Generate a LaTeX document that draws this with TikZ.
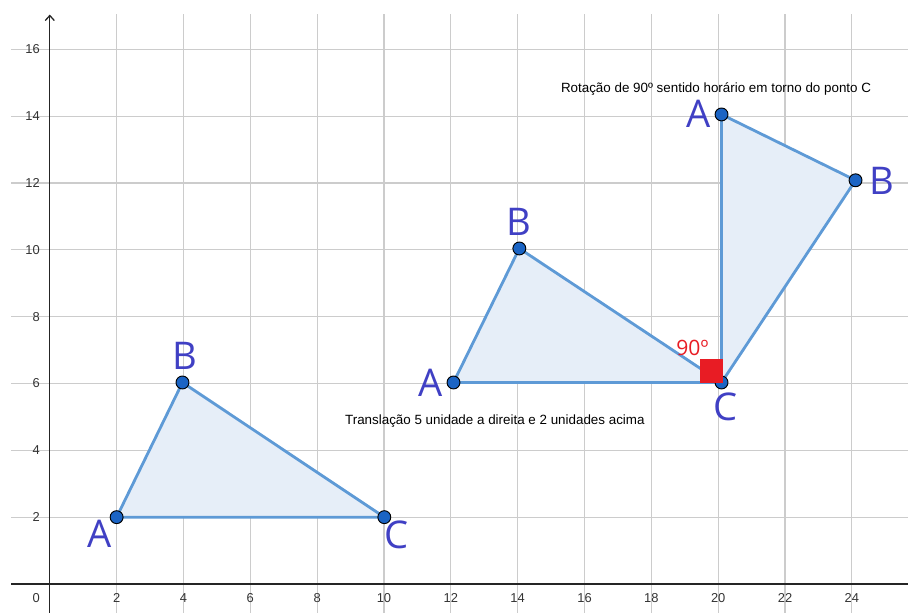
\documentclass[tikz,border=0pt]{standalone}
\usepackage{fontspec}
\setmainfont{Liberation Sans}
\newfontfamily\lblfont{Open Sans}
\usetikzlibrary{arrows.meta}
\definecolor{gridc}{HTML}{CCCCCC}
\definecolor{axisc}{HTML}{252525}
\definecolor{edgec}{HTML}{5E9AD6}
\definecolor{fillc}{HTML}{E6EEF8}
\definecolor{ptc}{HTML}{1B64C4}
\definecolor{lblc}{HTML}{4040C4}
\definecolor{redc}{HTML}{E81C24}
\definecolor{tickc}{HTML}{333333}
\begin{document}
\begin{tikzpicture}[x=1cm,y=1cm,
  gridline/.style={gridc, line width=1pt},
  axisline/.style={axisc, line width=1.1pt},
  tri/.style={draw=edgec, line width=2.4pt, fill=fillc, line join=round},
  pt/.style={circle, fill=ptc, draw=black, line width=0.8pt, minimum size=11pt, inner sep=0pt},
  lbl/.style={text=lblc, font=\lblfont\fontsize{32.5}{32.5}\selectfont, inner sep=0pt},
  tick/.style={text=tickc, font=\fontsize{11}{11}\selectfont, inner sep=0pt},
  note/.style={text=black, font=\fontsize{11.4}{12}\selectfont, inner sep=0pt, anchor=base west},
  angmark/.style={fill=redc, draw=none},
  anglbl/.style={text=redc, font=\lblfont\fontsize{18}{18}\selectfont, inner sep=0pt, anchor=base west},
]
\useasboundingbox (-1.49,-0.838) rectangle (25.68,17.475);
% grid
\foreach \x in {2,4,...,24} \draw[gridline] (\x,-0.9) -- (\x,17.06);
\foreach \y in {2,4,...,16} \draw[gridline] (-1.16,\y) -- (25.8,\y);
% axes
\coordinate (xs) at (-1.16,0);
\coordinate (xe) at (25.8,0);
\coordinate (ys) at (0,-0.9);
\coordinate (ye) at (0,17.04);
\draw[axisline] (xs) -- (xe);
\draw[axisline, -{Straight Barb[length=4.3pt,width=7.7pt]}] (ys) -- (ye);
% tick labels
\foreach \x in {2,4,...,24} \node[tick, anchor=base] (tx\x) at (\x,-0.56) {\x};
\foreach \y in {2,4,...,16} \node[tick, anchor=east] (ty\y) at (-0.29,\y) {\y};
\node[tick, anchor=base east] (t0) at (-0.29,-0.56) {0};
% vertices
\coordinate (A1) at (2,2);
\coordinate (B1) at (3.97,6.03);
\coordinate (C1) at (10.01,2);
\coordinate (A2) at (12.08,6.03);
\coordinate (B2) at (14.05,10.04);
\coordinate (C2) at (20.1,6.03);
\coordinate (A3) at (20.1,14.05);
\coordinate (B3) at (24.11,12.08);
% triangles
\filldraw[tri] (A1) -- (B1) -- (C1) -- cycle;
\filldraw[tri] (A2) -- (B2) -- (C2) -- cycle;
\filldraw[tri] (A3) -- (B3) -- (C2) -- cycle;
% points
\foreach \p in {A1,B1,C1,A2,B2,C2,A3,B3} \node[pt] (p\p) at (\p) {};
% right angle mark
\fill[angmark] (19.47,6.0) rectangle (20.15,6.72);
\node[anglbl] (ang) at (18.74,6.85) {90º};
% labels
\node[lbl] (lA1) at (1.48,1.50) {A};
\node[lbl] (lB1) at (4.03,6.82) {B};
\node[lbl] (lC1) at (10.37,1.47) {C};
\node[lbl] (lA2) at (11.38,6.01) {A};
\node[lbl] (lB2) at (14.05,10.83) {B};
\node[lbl] (lC2) at (20.22,5.30) {C};
\node[lbl] (lA3) at (19.42,14.06) {A};
\node[lbl] (lB3) at (24.89,12.06) {B};
% notes
\node[note] (n1) at (15.29,14.71) {Rotação de 90º sentido horário em torno do ponto C};
\node[note] (n2) at (8.83,4.76) {Translação 5 unidade a direita e 2 unidades acima};
\end{tikzpicture}
\end{document}
